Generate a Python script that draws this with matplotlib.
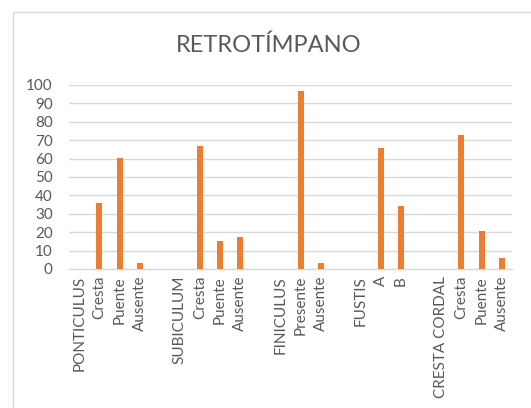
import matplotlib
matplotlib.use("Agg")
import matplotlib.pyplot as plt
from matplotlib.patches import Rectangle

plt.rcParams['font.family'] = ['Lato', 'DejaVu Sans']

# Category labels along the x axis (group headers followed by their subcategories)
categories = [
    "PONTICULUS", "Cresta", "Puente", "Ausente", "",
    "SUBICULUM", "Cresta", "Puente", "Ausente", "",
    "FINICULUS", "Presente", "Ausente", "",
    "FUSTIS", "A", "B", "",
    "CRESTA CORDAL", "Cresta", "Puente", "Ausente",
]
# Percentages; None where a slot has no bar
values = [
    None, 36, 60.5, 3, None,
    None, 67, 15, 17.5, None,
    None, 96.5, 3.5, None,
    None, 66, 34, None,
    None, 73, 20.5, 6,
]
yticks = list(range(0, 101, 10))

orange = "#ED7D31"
grid_c = "#D9D9D9"
text_c = "#595959"

W, H = 531, 408
fig = plt.figure(figsize=(W / 100, H / 100), dpi=100)

# chart frame
fig.patches.append(Rectangle((12.5 / W, -0.2), 1.2, 1 - 11.7 / H + 0.2,
                             transform=fig.transFigure, fill=False,
                             edgecolor=grid_c, linewidth=1.0))

left, right = 69.3 / W, 511.7 / W
bottom, top = 1 - 269 / H, 1 - 85 / H
ax = fig.add_axes([left, bottom, right - left, top - bottom])

xs = [i for i, v in enumerate(values) if v is not None]
hs = [v for v in values if v is not None]
ax.bar(xs, hs, width=0.3, color=orange, zorder=3)

ax.set_xlim(-0.5, len(categories) - 0.5)
ax.set_ylim(0, 100)
ax.set_yticks(yticks)
ax.set_yticklabels([str(t) for t in yticks], fontsize=11, color=text_c)
ax.set_xticks(range(len(categories)))
ax.set_xticklabels(categories, rotation=90, fontsize=11, color=text_c)
ax.tick_params(axis='both', length=0)
ax.tick_params(axis='y', pad=12)
ax.tick_params(axis='x', pad=5)

ax.grid(axis='y', color=grid_c, linewidth=1.0, zorder=0)
for s in ['top', 'right', 'left']:
    ax.spines[s].set_visible(False)
ax.spines['bottom'].set_color(grid_c)
ax.spines['bottom'].set_linewidth(1.0)

fig.text(269 / W, 1 - 45 / H, "RETROTÍMPANO", ha='center', va='center',
         fontsize=17, color=text_c)

fig.savefig("out.png", dpi=100)
